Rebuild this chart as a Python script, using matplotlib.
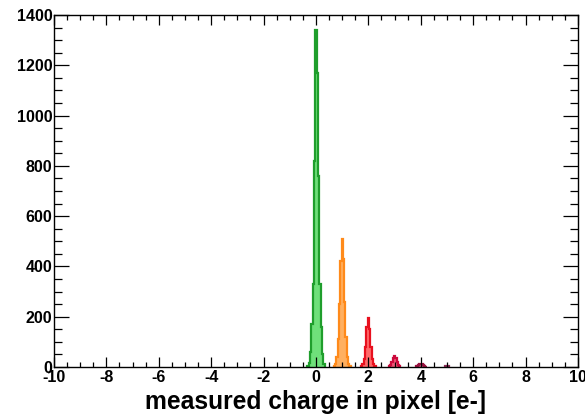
import numpy as np
import matplotlib.pyplot as plt
from matplotlib.ticker import MultipleLocator

plt.rcParams['font.family'] = ['Liberation Sans', 'DejaVu Sans']
plt.rcParams['font.weight'] = 'bold'
plt.rcParams['axes.unicode_minus'] = False

bin_width = 0.05

# first bin centre and counts for each charge peak
peak_starts = [-0.30, 0.70, 1.75, 2.80, 3.80, 4.90]
peak_counts = [
    [3, 15, 60, 170, 330, 820, 1340, 1170, 760, 330, 160, 50, 10],
    [3, 12, 40, 110, 250, 420, 510, 430, 260, 120, 40, 12, 3],
    [3, 10, 30, 80, 160, 195, 150, 80, 30, 10, 3],
    [2, 6, 18, 35, 45, 35, 18, 6, 2],
    [1, 3, 6, 10, 12, 10, 6, 3, 1],
    [1, 2, 3, 2, 1],
]
edge_colors = ['#1f9e2c', '#ff8a1a', '#e8101e', '#cc0a3c', '#99113f', '#8a2a55']
face_colors = ['#6fe07a', '#ffb060', '#ff6a6a', '#ee5a78', '#c8557a', '#b06080']

fig = plt.figure(figsize=(5.85, 4.16), dpi=100)
ax = fig.add_axes([0.0923, 0.1178, 0.8957, 0.8462])

for start, counts, ec, fc in zip(peak_starts, peak_counts, edge_colors, face_colors):
    counts = np.array(counts, dtype=float)
    edges = start - bin_width / 2 + bin_width * np.arange(len(counts) + 1)
    ax.stairs(counts, edges, fill=True, color=fc)
    ax.stairs(counts, edges, color=ec, lw=1.6)

ax.set_xlim(-10, 10)
ax.set_ylim(0, 1400)
ax.xaxis.set_major_locator(MultipleLocator(2))
ax.xaxis.set_minor_locator(MultipleLocator(0.5))
ax.yaxis.set_major_locator(MultipleLocator(200))
ax.yaxis.set_minor_locator(MultipleLocator(50))

ax.tick_params(axis='both', which='both', direction='in', top=True, right=True,
               labelsize=11.5, width=0.9)
ax.tick_params(axis='y', which='major', length=11, pad=1)
ax.tick_params(axis='y', which='minor', length=6)
ax.tick_params(axis='x', which='major', length=7.5, pad=2.5)
ax.tick_params(axis='x', which='minor', length=3.8)
for lab in ax.get_xticklabels() + ax.get_yticklabels():
    lab.set_fontweight('bold')
for s in ax.spines.values():
    s.set_linewidth(1.0)

ax.set_xlabel('measured charge in pixel [e-]', fontsize=17.7, fontweight='bold', labelpad=3)

fig.savefig('out.png', dpi=100)
